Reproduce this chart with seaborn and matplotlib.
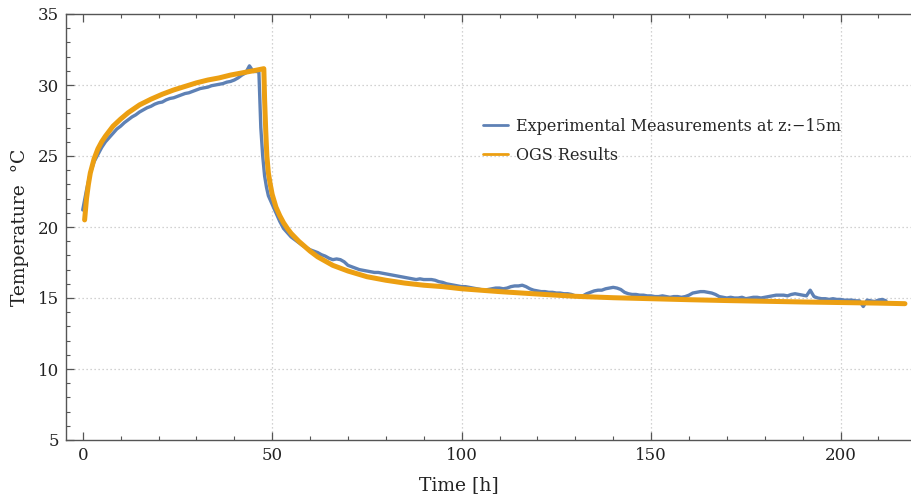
import numpy as np
import pandas as pd
import matplotlib
matplotlib.use("Agg")
import matplotlib.pyplot as plt
from matplotlib.ticker import MultipleLocator
import seaborn as sns

# measured temperature at z=-15m (hourly readings, extra points at the switch-off)
meas_t = [0, 1, 2, 3, 4, 5, 6, 7, 8, 9,
          10, 11, 12, 13, 14, 15, 16, 17, 18, 19,
          20, 21, 22, 23, 24, 25, 26, 27, 28, 29,
          30, 31, 32, 33, 34, 35, 36, 37, 38, 39,
          40, 41, 42, 43, 44, 45, 46, 46.5, 47, 47.5, 48, 48.5, 49,
          50, 51, 52, 53, 54, 55, 56, 57, 58, 59,
          60, 61, 62, 63, 64, 65, 66, 67, 68, 69,
          70, 71, 72, 73, 74, 75, 76, 77, 78, 79,
          80, 81, 82, 83, 84, 85, 86, 87, 88, 89,
          90, 91, 92, 93, 94, 95, 96, 97, 98, 99,
          100, 101, 102, 103, 104, 105, 106, 107, 108, 109,
          110, 111, 112, 113, 114, 115, 116, 117, 118, 119,
          120, 121, 122, 123, 124, 125, 126, 127, 128, 129,
          130, 131, 132, 133, 134, 135, 136, 137, 138, 139,
          140, 141, 142, 143, 144, 145, 146, 147, 148, 149,
          150, 151, 152, 153, 154, 155, 156, 157, 158, 159,
          160, 161, 162, 163, 164, 165, 166, 167, 168, 169,
          170, 171, 172, 173, 174, 175, 176, 177, 178, 179,
          180, 181, 182, 183, 184, 185, 186, 187, 188, 189,
          190, 191, 192, 193, 194, 195, 196, 197, 198, 199,
          200, 201, 202, 203, 204, 205, 206, 207, 208, 209,
          210, 211, 212]
meas_T = [21.2, 22.6, 23.8, 24.6, 25.1, 25.6, 26.0, 26.3, 26.6, 26.9,
          27.1, 27.35, 27.55, 27.75, 27.9, 28.1, 28.25, 28.4, 28.5, 28.65,
          28.75, 28.8, 28.95, 29.05, 29.1, 29.2, 29.3, 29.4, 29.45, 29.55,
          29.65, 29.75, 29.8, 29.85, 29.95, 30.0, 30.05, 30.1, 30.2, 30.25,
          30.35, 30.5, 30.7, 30.85, 31.35, 30.95, 30.95, 30.9, 27.0, 25.0, 23.6, 22.8, 22.2,
          21.6, 21.0, 20.4, 19.9, 19.6, 19.3, 19.1, 18.9, 18.7, 18.55,
          18.4, 18.3, 18.2, 18.05, 17.95, 17.8, 17.7, 17.75, 17.7, 17.55,
          17.3, 17.2, 17.1, 17.0, 16.95, 16.9, 16.85, 16.8, 16.8, 16.75,
          16.7, 16.65, 16.6, 16.55, 16.5, 16.45, 16.4, 16.35, 16.3, 16.35,
          16.3, 16.3, 16.3, 16.25, 16.15, 16.1, 16.0, 15.95, 15.9, 15.85,
          15.8, 15.8, 15.75, 15.7, 15.65, 15.6, 15.55, 15.6, 15.65, 15.7,
          15.7, 15.65, 15.7, 15.8, 15.85, 15.85, 15.9, 15.8, 15.65, 15.55,
          15.5, 15.45, 15.45, 15.4, 15.4, 15.35, 15.35, 15.3, 15.3, 15.25,
          15.15, 15.1, 15.15, 15.3, 15.4, 15.5, 15.55, 15.55, 15.65, 15.7,
          15.75, 15.7, 15.6, 15.4, 15.3, 15.25, 15.25, 15.2, 15.2, 15.15,
          15.15, 15.1, 15.1, 15.15, 15.1, 15.05, 15.1, 15.1, 15.05, 15.1,
          15.2, 15.35, 15.4, 15.45, 15.45, 15.4, 15.35, 15.25, 15.1, 15.05,
          15.0, 15.05, 15.0, 15.0, 15.05, 14.95, 15.0, 15.05, 15.05, 15.0,
          15.05, 15.1, 15.15, 15.2, 15.2, 15.2, 15.15, 15.25, 15.3, 15.25,
          15.2, 15.15, 15.55, 15.1, 15.0, 14.95, 14.95, 14.9, 14.95, 14.9,
          14.9, 14.85, 14.85, 14.85, 14.8, 14.8, 14.4, 14.85, 14.8, 14.75,
          14.85, 14.9, 14.8]

# OGS simulation result
ogs_t = [0.5, 1, 1.5, 2, 3, 4, 5, 6, 8, 10,
         12, 15, 18, 21, 24, 27, 30, 33, 36, 39,
         42, 45, 47.8, 48.0, 48.3, 48.6, 49, 49.5, 50, 51,
         52, 53, 54, 55, 57, 60, 62, 66, 70, 75, 80,
         85, 90, 95, 100, 110, 120, 130, 140, 150, 160,
         170, 180, 190, 200, 210, 217]
ogs_T = [20.5, 22.0, 23.0, 23.8, 24.8, 25.5, 26.0, 26.4, 27.1, 27.6,
         28.05, 28.6, 29.0, 29.35, 29.65, 29.9, 30.15, 30.35, 30.5, 30.7,
         30.85, 31.0, 31.15, 29.0, 26.8, 25.0, 23.8, 23.0, 22.3, 21.4,
         20.8, 20.3, 19.9, 19.55, 19.0, 18.3, 17.9, 17.3, 16.9, 16.5, 16.25,
         16.05, 15.9, 15.8, 15.65, 15.45, 15.28, 15.12, 15.02, 14.95, 14.88,
         14.82, 14.77, 14.72, 14.68, 14.64, 14.6]

BLUE = "#5E81B5"
ORANGE = "#EC9F12"

sns.set_style("ticks")
plt.rcParams["font.family"] = ["DejaVu Serif"]

meas = pd.DataFrame({"t": meas_t, "T": meas_T})
ogs = pd.DataFrame({"t": ogs_t, "T": ogs_T})

fig = plt.figure(figsize=(9.11, 5.0), dpi=100)
ax = fig.add_axes([0.0725, 0.12, 0.93, 0.852])

sns.lineplot(data=meas, x="t", y="T", ax=ax, color=BLUE, lw=2.4,
             estimator=None, sort=False, label="Experimental Measurements at z:\u221215m")
sns.lineplot(data=ogs, x="t", y="T", ax=ax, color=ORANGE, lw=3.6,
             estimator=None, sort=False, label="OGS Results")

ax.set_xlim(-4.4, 219.2)
ax.set_ylim(5, 35)
ax.xaxis.set_major_locator(MultipleLocator(50))
ax.xaxis.set_minor_locator(MultipleLocator(10))
ax.yaxis.set_major_locator(MultipleLocator(5))
ax.yaxis.set_minor_locator(MultipleLocator(1))

for v in [50, 100, 150, 200]:
    ax.axvline(v, color="#c4c4c4", lw=0.9, ls=(0, (1, 2.2)), zorder=0)
for v in [10, 15, 20, 25, 30]:
    ax.axhline(v, color="#c4c4c4", lw=0.9, ls=(0, (1, 2.2)), zorder=0)

ax.tick_params(which="both", direction="in", top=True, right=False,
               color="#555555", labelsize=12, labelcolor="#222222")
ax.tick_params(which="major", length=5.5, width=0.9, pad=5)
ax.tick_params(which="minor", length=3, width=0.8)
for side in ["left", "bottom", "top"]:
    ax.spines[side].set_color("#555555")
    ax.spines[side].set_linewidth(1.0)
ax.spines["right"].set_visible(False)

ax.set_xlabel("Time [h]", fontsize=13.5, color="#222222")
ax.set_ylabel("Temperature  \u00b0C", fontsize=13.5, color="#222222")
ax.xaxis.set_label_coords(0.464, -0.085)
ax.yaxis.set_label_coords(-0.044, 0.5)

leg = ax.legend(loc="upper left", bbox_to_anchor=(0.475, 0.79), frameon=False,
                fontsize=11.5, handlelength=1.6, handletextpad=0.5, labelspacing=0.75)
for line in leg.get_lines():
    line.set_linewidth(2.0)

fig.savefig("out.png", dpi=100)
